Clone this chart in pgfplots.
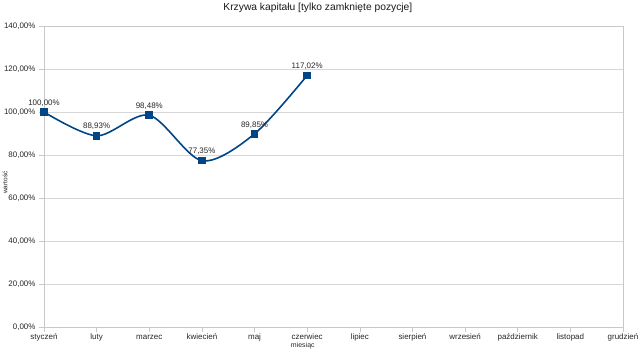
\documentclass[border=0pt]{standalone}
\usepackage{fontspec}
\setmainfont{Liberation Sans}
\usepackage{pgfplots}
\pgfplotsset{compat=1.18}
\definecolor{lo}{HTML}{004586}
\definecolor{gridc}{HTML}{D6D6D6}
\definecolor{axc}{HTML}{C8C8C8}
\begin{document}
\begin{tikzpicture}
\begin{axis}[
  scale only axis, width=579bp, height=301bp,
  xmin=0, xmax=11, ymin=0, ymax=140,
  xtick={0,...,11},
  xticklabels={styczeń,luty,marzec,kwiecień,maj,czerwiec,lipiec,sierpień,wrzesień,październik,listopad,grudzień},
  ytick={0,20,...,140},
  /pgf/number format/assume math mode=true,
  yticklabel={\pgfmathprintnumber[fixed,fixed zerofill,precision=2,use comma]{\tick}\%},
  ymajorgrids,
  major grid style={gridc, line width=0.6bp},
  axis line style={axc, line width=0.6bp},
  tick style={axc, line width=0.6bp},
  tick align=outside, major tick length=5bp,
  xtick pos=bottom, ytick pos=left,
  ticklabel style={font=\fontsize{8}{9}\selectfont, text=black!85},
  xticklabel style={inner sep=1.5bp, text height=6bp, text depth=2bp},
  title={Krzywa kapitału [tylko zamknięte pozycje]},
  title style={at={(axis description cs:0.473,1)}, anchor=center, yshift=12bp, font=\fontsize{10.3}{12}\selectfont, text=black!90},
  xlabel={miesiąc},
  xlabel style={at={(axis description cs:0.447,0)}, anchor=north, yshift=-15bp, inner sep=0pt, font=\fontsize{7}{8}\selectfont, text=black!85},
  ylabel={wartość},
  ylabel style={at={(axis description cs:0,0.48)}, anchor=center, yshift=39bp, inner sep=0pt, font=\fontsize{6.5}{7}\selectfont, text=black!85},
  clip=false,
]
\addplot[lo, line width=1.6bp, smooth, mark=square*, mark size=3bp,
  mark options={solid, fill=lo},
  nodes near coords, point meta=explicit symbolic,
  nodes near coords style={font=\fontsize{8}{9}\selectfont, text=black!85, anchor=south, inner sep=1bp, yshift=4bp}]
  table[meta=label] {
x y label
0 100 100,00\%
1 88.93 88,93\%
2 98.48 98,48\%
3 77.35 77,35\%
4 89.85 89,85\%
5 117.02 117,02\%
};
\end{axis}
\pgfresetboundingbox
\path (current axis.south west) ++(-44bp,-26bp) rectangle ++(640bp,353bp);
\end{tikzpicture}
\end{document}
